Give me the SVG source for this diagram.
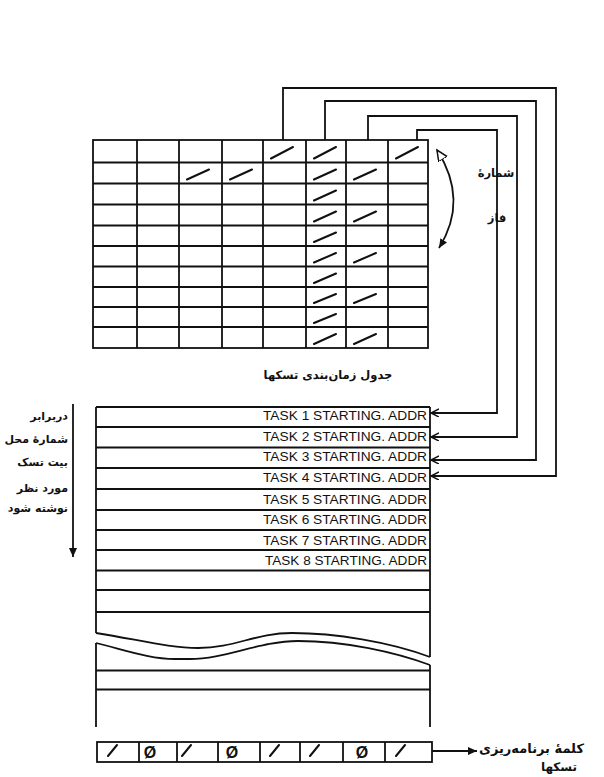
<svg xmlns="http://www.w3.org/2000/svg" width="604" height="777" viewBox="0 0 604 777">
<defs>
<style>
.ln{stroke:#111;stroke-width:1.8;fill:none}
.sl{stroke:#111;stroke-width:2;fill:none;stroke-linecap:round}
.cn{stroke:#111;stroke-width:1.8;fill:none}
.task{font-family:"Liberation Sans",Arial,sans-serif;font-size:13px;fill:#111;text-anchor:end}
.fa{font-family:"DejaVu Sans",sans-serif;font-size:11px;font-weight:bold;fill:#111}
.zero{font-family:"Liberation Sans",Arial,sans-serif;font-size:16px;font-weight:bold;fill:#111;text-anchor:middle}
</style>
<marker id="openHead" markerWidth="10" markerHeight="10" refX="8" refY="4" orient="auto" markerUnits="userSpaceOnUse">
<path d="M0,0 L8,4 L0,8" fill="none" stroke="#111" stroke-width="1.5"/>
</marker>
<marker id="fillHead" markerWidth="12" markerHeight="10" refX="9" refY="4" orient="auto" markerUnits="userSpaceOnUse">
<path d="M0,0 L9,4 L0,8 Z" fill="#111"/>
</marker>
<marker id="triOpen" markerWidth="14" markerHeight="12" refX="11" refY="5" orient="auto-start-reverse" markerUnits="userSpaceOnUse">
<path d="M0,0 L11,5 L0,10 Z" fill="#fff" stroke="#111" stroke-width="1.5"/>
</marker>
</defs>
<rect width="604" height="777" fill="#fff"/>

<g id="schedule-table">
<rect x="93" y="140" width="335" height="208" class="ln"/>
<path class="ln" d="M137,140V348M179,140V348M222,140V348M263,140V348M306,140V348M346,140V348M388,140V348"/>
<path class="ln" d="M93,162.5H428M93,183.5H428M93,204.5H428M93,225.5H428M93,246H428M93,266.5H428M93,287H428M93,307H428M93,327H428"/>
<path class="sl" d="M271,158.5L293,147M314,158.5L336,147M396,158.5L418,147
M187,179.5L209,169.5M230,179.5L252,169.5M314,179.5L336,169.5M354,179.5L376,169.5
M314,200.5L336,190.5
M314,221.5L336,211.5M354,221.5L376,211.5
M314,242L336,232.5
M314,262.5L336,253M354,262.5L376,253
M314,283L336,273.5
M314,303L336,294M354,303L376,294
M314,323L336,314
M314,344L336,334M354,344L376,334"/>
<text class="fa" x="328" y="379" text-anchor="middle" style="font-size:11.5px">جدول زمان‌بندی تسکها</text>
</g>

<g id="phase-label">
<path class="cn" d="M437,150 Q469,200 439,248" marker-start="url(#triOpen)" marker-end="url(#fillHead)"/>
<text class="fa" x="496" y="177" text-anchor="middle" style="font-size:11.5px">شمارهٔ</text>
<text class="fa" x="497" y="222" text-anchor="middle" style="font-size:11.5px">فاز</text>
</g>

<g id="address-table">
<path class="ln" d="M96,407H430M96,427H430M96,447.5H430M96,468H430M96,489H430M96,510H430M96,530H430M96,550H430M96,570.5H430M96,590H430M96,612H430"/>
<path class="ln" d="M96,407V633M430,407V657"/>
<path class="ln" d="M96,633 C140,640 170,648 198,648 C235,648 255,633 292,633 C335,633 390,642 430,657"/>
<path class="ln" d="M96,643 C125,650 150,659 175,659 L190,659 C225,659 260,641 298,641 C345,641 395,652 430,665"/>
<path class="ln" d="M96,643V727M430,665V727M96,670.5H430M96,689.5H430"/>
<text class="task" x="427" y="420" textLength="164" lengthAdjust="spacingAndGlyphs">TASK 1 STARTING. ADDR</text>
<text class="task" x="427" y="440.5" textLength="164" lengthAdjust="spacingAndGlyphs">TASK 2 STARTING. ADDR</text>
<text class="task" x="427" y="461" textLength="164" lengthAdjust="spacingAndGlyphs">TASK 3 STARTING. ADDR</text>
<text class="task" x="427" y="482" textLength="164" lengthAdjust="spacingAndGlyphs">TASK 4 STARTING. ADDR</text>
<text class="task" x="427" y="503.5" textLength="164" lengthAdjust="spacingAndGlyphs">TASK 5 STARTING. ADDR</text>
<text class="task" x="427" y="524" textLength="164" lengthAdjust="spacingAndGlyphs">TASK 6 STARTING. ADDR</text>
<text class="task" x="427" y="544.5" textLength="164" lengthAdjust="spacingAndGlyphs">TASK 7 STARTING. ADDR</text>
<text class="task" x="427" y="565" textLength="162" lengthAdjust="spacingAndGlyphs">TASK 8 STARTING. ADDR</text>
</g>

<g id="bit-label">
<path class="cn" d="M73,404V557" marker-end="url(#fillHead)"/>
<text class="fa" x="68" y="420" text-anchor="end">دربرابر</text>
<text class="fa" x="68" y="443" text-anchor="end">شمارهٔ محل</text>
<text class="fa" x="68" y="466" text-anchor="end">بیت تسک</text>
<text class="fa" x="68" y="492" text-anchor="end">مورد نظر</text>
<text class="fa" x="68" y="512" text-anchor="end">نوشته شود</text>
</g>

<g id="schedule-word">
<rect x="97" y="742" width="335" height="20" class="ln"/>
<path class="ln" d="M139,742V762M177,742V762M218,742V762M260,742V762M300,742V762M343,742V762M385,742V762"/>
<path class="sl" d="M108,756L117,745M182,756L191,745M270,756L279,745M310,756L319,745M396,756L405,745"/>
<text class="zero" x="150" y="757.5">Ø</text>
<text class="zero" x="232" y="757.5">Ø</text>
<text class="zero" x="362" y="757.5">Ø</text>
</g>

<g id="word-label">
<text class="fa" x="584" y="753" text-anchor="end" style="font-size:13px">کلمهٔ برنامه‌ریزی</text>
<text class="fa" x="559" y="771" text-anchor="middle" style="font-size:12px">تسکها</text>
</g>

<g id="connectors">
<path class="cn" d="M417,140V130H497V413H431" marker-end="url(#openHead)"/>
<path class="cn" d="M368,140V116H517V437H431" marker-end="url(#openHead)"/>
<path class="cn" d="M325,140V101H536V460H431" marker-end="url(#openHead)"/>
<path class="cn" d="M283,140V88H556V476H431" marker-end="url(#openHead)"/>
<path class="cn" d="M432,751H477" marker-end="url(#fillHead)"/>
</g>
</svg>
